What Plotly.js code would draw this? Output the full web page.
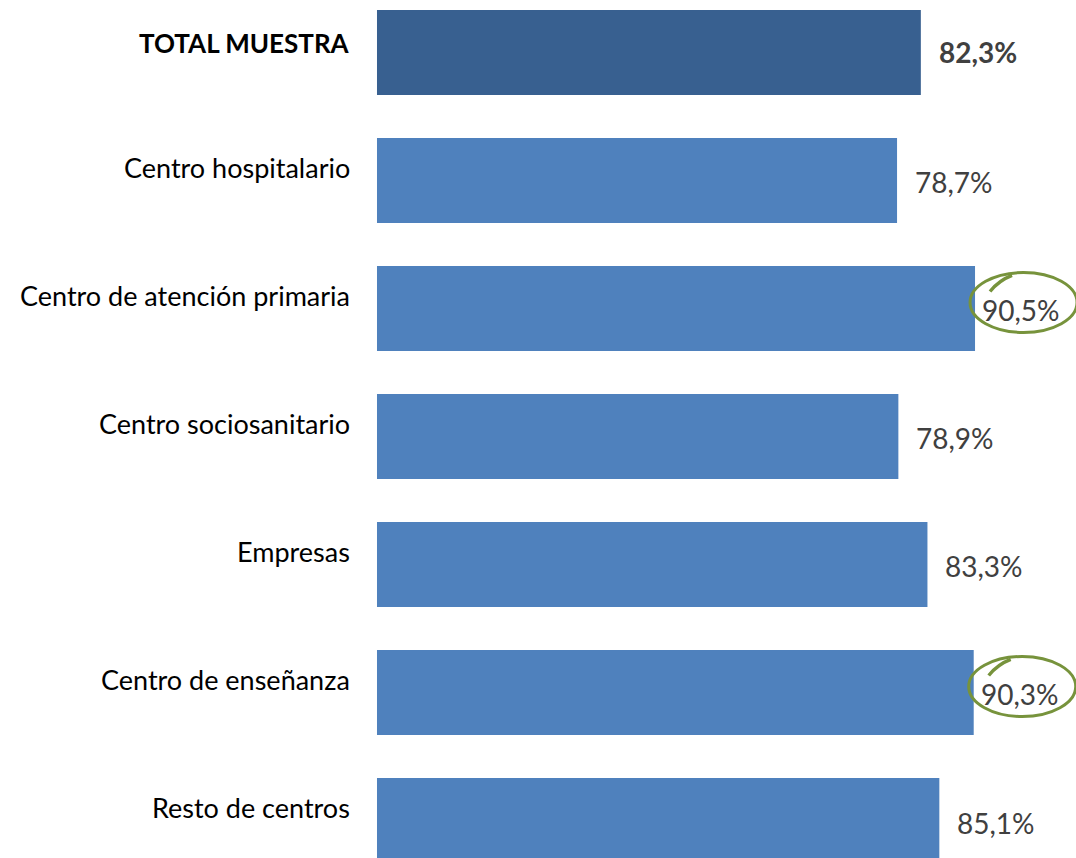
<!DOCTYPE html>
<html>
<head>
<meta charset="utf-8">
<script src="https://cdn.plot.ly/plotly-3.0.1.min.js"></script>
<style>html,body{margin:0;padding:0;background:#fff;}#chart{width:1076px;height:858px;}</style>
</head>
<body>
<div id="chart"></div>
<script>
const categories = ["TOTAL MUESTRA", "Centro hospitalario", "Centro de atención primaria", "Centro sociosanitario", "Empresas", "Centro de enseñanza", "Resto de centros"];
const values = [82.3, 78.7, 90.5, 78.9, 83.3, 90.3, 85.1];
const valueLabels = ["82,3%", "78,7%", "90,5%", "78,9%", "83,3%", "90,3%", "85,1%"];
const highlighted = [false, false, true, false, false, true, false];

const FONT = "Lato, 'Open Sans', sans-serif";
const idx = categories.map((c, i) => i);
const colors = categories.map((c, i) => i === 0 ? "#386090" : "#4f81bd");

const trace = {
  type: "bar",
  orientation: "h",
  x: values,
  y: idx,
  marker: {color: colors},
  hoverinfo: "skip",
  width: 0.664
};

const annotations = [];
categories.forEach((c, i) => {
  annotations.push({
    x: 0, y: i, xref: "x", yref: "y",
    text: i === 0 ? "<b>" + c + "</b>" : c,
    showarrow: false, xanchor: "right", yanchor: "middle",
    xshift: -25, yshift: i === 0 ? 9 : 13,
    font: {family: FONT, size: i === 0 ? 26 : 27, color: "#000000"}
  });
  annotations.push({
    x: values[i], y: i, xref: "x", yref: "y",
    text: i === 0 ? "<b>" + valueLabels[i] + "</b>" : valueLabels[i],
    showarrow: false, xanchor: "left", yanchor: "middle",
    xshift: highlighted[i] ? 5 : 16, yshift: i === 0 ? 0 : -2,
    font: {family: FONT, size: 28, color: "#404040"}
  });
});

const shapes = [];
categories.forEach((c, i) => {
  if (!highlighted[i]) return;
  shapes.push({
    type: "circle", xref: "x", yref: "y",
    xsizemode: "pixel", ysizemode: "pixel",
    xanchor: values[i], yanchor: i,
    x0: -5, x1: 102, y0: -24, y1: 36,
    line: {color: "#77933c", width: 3}
  });
  shapes.push({
    type: "path", xref: "x", yref: "y",
    xsizemode: "pixel", ysizemode: "pixel",
    xanchor: values[i], yanchor: i,
    path: "M 15 17 Q 24 28 37 33",
    line: {color: "#77933c", width: 3.5}
  });
});

const layout = {
  width: 1076, height: 858,
  margin: {l: 0, r: 0, t: 0, b: 0, pad: 0},
  paper_bgcolor: "#ffffff", plot_bgcolor: "#ffffff",
  showlegend: false,
  xaxis: {range: [-57.05, 105.78], showgrid: false, zeroline: false, showticklabels: false, showline: false, fixedrange: true},
  yaxis: {range: [6.293, -0.41], showgrid: false, zeroline: false, showticklabels: false, showline: false, fixedrange: true},
  annotations: annotations,
  shapes: shapes
};

Plotly.newPlot("chart", [trace], layout, {staticPlot: true, displayModeBar: false});
</script>
</body>
</html>
